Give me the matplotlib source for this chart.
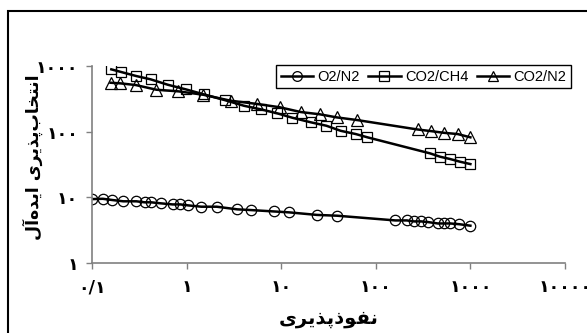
import matplotlib
matplotlib.use('Agg')
import matplotlib.pyplot as plt
from matplotlib.patches import Rectangle
from matplotlib.lines import Line2D

# O2/N2
o2n2_x = [0.1, 0.13, 0.164, 0.214, 0.294, 0.36, 0.42, 0.535, 0.71, 0.86, 1.03, 1.43, 2.08,
          3.44, 4.79, 8.3, 12.2, 23.8, 38.9, 161, 213, 252, 302, 356, 453, 520, 611, 760, 1000]
o2n2_y = [9.4, 9.5, 9.1, 8.7, 8.7, 8.4, 8.4, 8.1, 7.8, 7.8, 7.55, 7.2, 7.2,
          6.56, 6.4, 6.1, 5.9, 5.4, 5.25, 4.45, 4.45, 4.3, 4.3, 4.2, 4.0, 4.0, 4.0, 3.9, 3.7]

# CO2/CH4
co2ch4_x = [0.16, 0.204, 0.294, 0.416, 0.634, 0.98, 1.52, 2.52, 4.04, 6.07, 9.1, 13.1,
            20.5, 30.1, 42.6, 61.4, 81.6, 373, 479, 611, 780, 1000]
co2ch4_y = [889, 809, 703, 627, 518, 441, 370, 303, 248, 219, 190, 163,
            139, 123, 103, 92, 82, 46.8, 41.5, 38.3, 34.8, 32.1]

# CO2/N2
co2n2_x = [0.157, 0.2, 0.29, 0.48, 0.82, 1.5, 2.92, 5.6, 9.7, 16.1, 25.5, 38.6, 64,
           276, 382, 528, 733, 1000]
co2n2_y = [556, 544, 513, 435, 411, 365, 296, 264, 235, 199, 184, 165, 150,
           108, 102, 96, 92, 82]

x_ticks = [0.1, 1, 10, 100, 1000, 10000]
x_labels = ['۰/۱', '۱', '۱۰', '۱۰۰', '۱۰۰۰', '۱۰۰۰۰']
y_ticks = [1, 10, 100, 1000]
y_labels = ['۱', '۱۰', '۱۰۰', '۱۰۰۰']

# Persian labels, pre-shaped and in visual order
x_title = 'ﯼﺮﯾﺬﭘﺫﻮﻔﻧ'   # نفوذپذیری
y_title = 'ﻝﺁﻩﺪﯾﺍ ﯼﺮﯾﺬﭘﺏﺎﺨﺘﻧﺍ'   # انتخاب‌پذیری ایده‌آل

fig = plt.figure(figsize=(5.87, 3.33), dpi=100)
ax = fig.add_axes([92/587, 1-263/333, (565-92)/587, (263-66)/333])

fig.patches.append(Rectangle((8/587, -0.1), 1.2, 1.1 - 11/333, transform=fig.transFigure,
                             fill=False, edgecolor='black', linewidth=1.5))

ms = 7.5
ax.plot(o2n2_x, o2n2_y, color='black', lw=1.8, marker='o', ms=ms, mfc='none', mec='black', mew=0.9)
ax.plot(co2ch4_x, co2ch4_y, color='black', lw=1.8, marker='s', ms=ms, mfc='none', mec='black', mew=0.9)
ax.plot(co2n2_x, co2n2_y, color='black', lw=1.8, marker='^', ms=ms+1, mfc='none', mec='black', mew=0.9)

ax.set_xscale('log')
ax.set_yscale('log')
ax.set_xlim(0.1, 10000)
ax.set_ylim(1, 1000)
ax.minorticks_off()
ax.set_xticks(x_ticks)
ax.set_xticklabels(x_labels, fontsize=12.5, fontweight='bold', family='DejaVu Sans')
ax.set_yticks(y_ticks)
ax.set_yticklabels(y_labels, fontsize=12.5, fontweight='bold', family='DejaVu Sans')
ax.tick_params(colors='#808080', labelcolor='black', length=4, width=1)
ax.tick_params(axis='x', pad=7)
ax.tick_params(axis='y', pad=6)
for s in ['top', 'right']:
    ax.spines[s].set_visible(False)
for s in ['left', 'bottom']:
    ax.spines[s].set_color('#808080')
    ax.spines[s].set_linewidth(1.2)

fig.text(329/587, 1-318/333, x_title, ha='center', va='center', fontsize=14, fontweight='bold', family='DejaVu Sans')
fig.text(33/587, 1-157/333, y_title, ha='center', va='center', rotation=90, fontsize=12.5, fontweight='bold', family='DejaVu Sans')

handles = [Line2D([], [], color='black', lw=1.8, marker=m, ms=7, mfc='none', mec='black', mew=0.9)
           for m in ['o', 's', '^']]
leg = fig.legend(handles, ['O2/N2', 'CO2/CH4', 'CO2/N2'], ncol=3, loc='upper right',
                 bbox_to_anchor=(578/587, 1-58/333), fancybox=False, framealpha=1,
                 edgecolor='black', handlelength=2.2, handletextpad=0.3, columnspacing=0.6,
                 borderpad=0.3, prop={'family': 'Liberation Sans', 'size': 10.5})
leg.get_frame().set_linewidth(1.0)

fig.savefig('out.png', dpi=100)
